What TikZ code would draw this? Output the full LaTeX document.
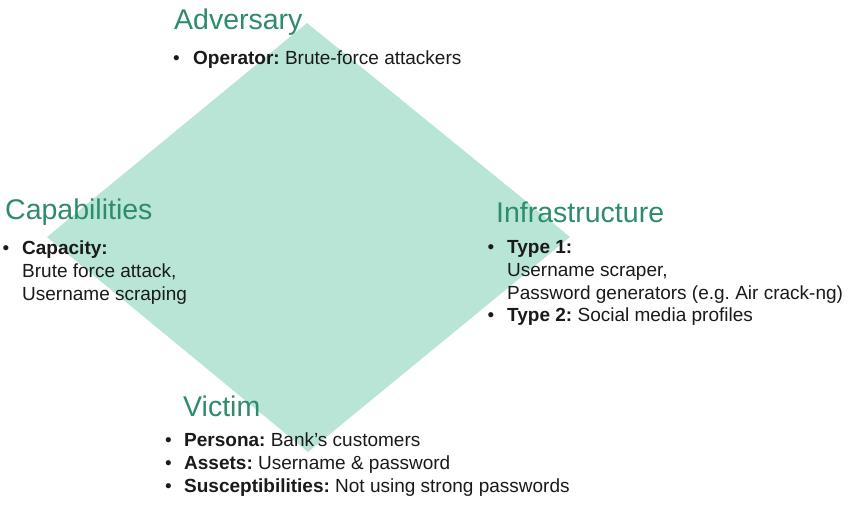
\documentclass[tikz,border=0pt]{standalone}
\usepackage{fontspec}
\setmainfont{Liberation Sans}
\frenchspacing
\definecolor{mint}{HTML}{B8E5D6}
\definecolor{titlegreen}{HTML}{2E8B6D}
\definecolor{bodytext}{HTML}{1A1A1A}
\begin{document}
\begin{tikzpicture}[x=1pt,y=-1pt,
  title/.style={anchor=base west,inner sep=0pt,text=titlegreen,font=\fontsize{28.5}{32}\selectfont},
  body/.style={anchor=base west,inner sep=0pt,text=bodytext,font=\fontsize{19}{23}\selectfont\frenchspacing},
  bul/.style={anchor=base west,inner sep=0pt,text=bodytext,font=\fontsize{19}{23}\selectfont}]
\useasboundingbox (0,0) rectangle (854,504);
\fill[white] (0,0) rectangle (854,504);
% diamond
\coordinate (dt) at (307,23);
\coordinate (dl) at (47,237);
\coordinate (dr) at (570,237);
\coordinate (db) at (308,452);
\fill[mint] (dt) -- (dr) -- (db) -- (dl) -- cycle;
% Adversary
\node[title] (adv) at (174,29) {Adversary};
\node[bul] (advb1) at (173,64) {•};
\node[body] (adv1) at (193,64) {\textbf{Operator:} Brute-force attackers};
% Capabilities
\node[title] (cap) at (5,219) {Capabilities};
\node[bul] (capb1) at (2.5,254) {•};
\node[body] (cap1) at (22,254) {\textbf{Capacity:}};
\node[body] (cap2) at (22,277) {Brute force attack,};
\node[body] (cap3) at (22,300) {Username scraping};
% Infrastructure
\node[title] (inf) at (496,222) {Infrastructure};
\node[bul] (infb1) at (487.5,253) {•};
\node[body] (inf1) at (507,253) {\textbf{Type 1:}};
\node[body] (inf2) at (507,276) {Username scraper,};
\node[body] (inf3) at (507,299) {Password generators (e.g. Air crack-ng)};
\node[bul] (infb2) at (487.5,321) {•};
\node[body] (inf4) at (507,321) {\textbf{Type 2:} Social media profiles};
% Victim
\node[title] (vic) at (183,416) {Victim};
\node[bul] (vicb1) at (165,446) {•};
\node[body] (vic1) at (184,446) {\textbf{Persona:} Bank’s customers};
\node[bul] (vicb2) at (165,469) {•};
\node[body] (vic2) at (184,469) {\textbf{Assets:} Username \& password};
\node[bul] (vicb3) at (165,492) {•};
\node[body] (vic3) at (184,492) {\textbf{Susceptibilities:} Not using strong passwords};
\end{tikzpicture}
\end{document}
